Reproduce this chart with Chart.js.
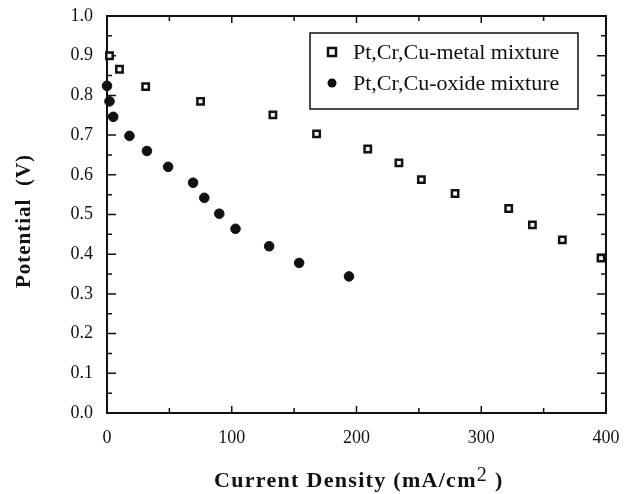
<!DOCTYPE html>
<html>
<head>
<meta charset="utf-8">
<script src="https://cdn.jsdelivr.net/npm/chart.js@4"></script>
<style>
html,body{margin:0;padding:0;background:#fff;}
#wrap{width:628px;height:494px;}
</style>
</head>
<body>
<div id="wrap"><canvas id="chart" width="628" height="494"></canvas></div>
<script>
// values
const metalX = [2, 10, 31, 75, 133, 168, 209, 234, 252, 279, 322, 341, 365, 396];
const metalY = [0.900, 0.866, 0.822, 0.785, 0.751, 0.703, 0.665, 0.630, 0.588, 0.553, 0.515, 0.474, 0.436, 0.390];
const oxideX = [0, 2, 5, 18, 32, 49, 69, 78, 90, 103, 130, 154, 194];
const oxideY = [0.824, 0.785, 0.746, 0.698, 0.660, 0.620, 0.580, 0.542, 0.502, 0.464, 0.420, 0.378, 0.344];
const seriesNames = ["Pt,Cr,Cu-metal mixture", "Pt,Cr,Cu-oxide mixture"];
const xTickValues = [0, 100, 200, 300, 400];
const yTickLabels = ["0.0","0.1","0.2","0.3","0.4","0.5","0.6","0.7","0.8","0.9","1.0"];
const xTitle = ["Current Density (mA/cm", "2", " )"];
const yTitle = "Potential  (V)";

const serif = "'Liberation Serif', 'DejaVu Serif', serif";

function pts(xs, ys) {
    return xs.map((x, k) => ({x: x, y: ys[k]}));
}

// frame + inward ticks (major and minor) on all four sides
const framePlugin = {
    id: 'frame',
    beforeDatasetsDraw(chart) {
        const {ctx, chartArea: a, scales: {x, y}} = chart;
        ctx.save();
        ctx.strokeStyle = '#111';
        ctx.lineWidth = 2;
        ctx.strokeRect(a.left, a.top, a.right - a.left, a.bottom - a.top);
        ctx.lineWidth = 1.5;
        ctx.beginPath();
        for (let v = 0; v <= 400; v += 50) {
            const px = x.getPixelForValue(v);
            const len = v % 100 === 0 ? 7 : 5;
            ctx.moveTo(px, a.bottom); ctx.lineTo(px, a.bottom - len);
            ctx.moveTo(px, a.top); ctx.lineTo(px, a.top + len);
        }
        for (let k = 0; k <= 20; k++) {
            const py = y.getPixelForValue(k * 0.05);
            const len = k % 2 === 0 ? 9 : 5;
            ctx.moveTo(a.left, py); ctx.lineTo(a.left + len, py);
            ctx.moveTo(a.right, py); ctx.lineTo(a.right - len, py);
        }
        ctx.stroke();
        ctx.restore();
    }
};

// axis titles (letter-spaced, with the superscript 2) and the boxed legend
const textPlugin = {
    id: 'texts',
    afterDraw(chart) {
        const ctx = chart.ctx;
        ctx.save();
        ctx.fillStyle = '#111';

        // x title
        ctx.font = "bold 22px " + serif;
        ctx.letterSpacing = '1.3px';
        ctx.textBaseline = 'alphabetic';
        ctx.textAlign = 'left';
        let tx = 214;
        const base = 487;
        ctx.fillText(xTitle[0], tx, base);
        tx += ctx.measureText(xTitle[0]).width;
        ctx.font = "20px " + serif;
        ctx.fillText(xTitle[1], tx, base - 6);
        tx += ctx.measureText(xTitle[1]).width;
        ctx.font = "bold 22px " + serif;
        ctx.fillText(xTitle[2], tx, base);

        // y title
        ctx.save();
        ctx.translate(25, 221);
        ctx.rotate(-Math.PI / 2);
        ctx.letterSpacing = '1px';
        ctx.font = "bold 21px " + serif;
        ctx.textAlign = 'center';
        ctx.textBaseline = 'middle';
        ctx.fillText(yTitle, 0, 0);
        ctx.restore();

        // legend
        ctx.letterSpacing = '0px';
        const bx = 310, by = 33, bw = 268, bh = 76;
        ctx.strokeStyle = '#111';
        ctx.lineWidth = 1.5;
        ctx.strokeRect(bx, by, bw, bh);
        ctx.font = "22px " + serif;
        ctx.textBaseline = 'middle';
        ctx.textAlign = 'left';
        chart.data.datasets.forEach((ds, k) => {
            const cy = by + 19 + k * 31;
            if (k === 0) {
                ctx.fillStyle = '#fff';
                ctx.lineWidth = 2.5;
                ctx.fillRect(328, cy - 4, 8, 8);
                ctx.strokeRect(328, cy - 4, 8, 8);
            } else {
                ctx.fillStyle = '#111';
                ctx.beginPath();
                ctx.arc(332, cy, 4.5, 0, Math.PI * 2);
                ctx.fill();
            }
            ctx.fillStyle = '#111';
            ctx.fillText(ds.label, 353, cy + 1);
        });
        ctx.restore();
    }
};

new Chart(document.getElementById("chart"), {
    type: "scatter",
    data: {
        datasets: [{
            label: seriesNames[0],
            data: pts(metalX, metalY),
            pointStyle: 'rect',
            pointRadius: 4.5,
            backgroundColor: '#fff',
            borderColor: '#111',
            borderWidth: 2.5,
            clip: false
        }, {
            label: seriesNames[1],
            data: pts(oxideX, oxideY),
            pointStyle: 'circle',
            pointRadius: 4.8,
            backgroundColor: '#111',
            borderColor: '#111',
            borderWidth: 1,
            clip: false
        }]
    },
    options: {
        responsive: false,
        animation: false,
        devicePixelRatio: 1,
        layout: { padding: { top: 16, right: 22, left: 0, bottom: 0 } },
        plugins: { legend: { display: false }, tooltip: { enabled: false } },
        scales: {
            x: {
                type: 'linear',
                min: 0, max: 400,
                afterFit: s => { s.height = 81; s.paddingLeft = 0; s.paddingRight = 0; },
                afterBuildTicks: s => { s.ticks = xTickValues.map(v => ({value: v})); },
                grid: { display: false, drawTicks: false },
                border: { display: false },
                ticks: {
                    color: '#111',
                    padding: 14,
                    font: { family: serif, size: 18 },
                    callback: v => String(v)
                }
            },
            y: {
                type: 'linear',
                min: 0, max: 1,
                afterFit: s => { s.width = 107; s.paddingTop = 0; s.paddingBottom = 0; },
                afterBuildTicks: s => { s.ticks = yTickLabels.map(t => ({value: parseFloat(t)})); },
                grid: { display: false, drawTicks: false },
                border: { display: false },
                ticks: {
                    color: '#111',
                    padding: 14,
                    font: { family: serif, size: 18 },
                    callback: (v, k) => yTickLabels[k]
                }
            }
        }
    },
    plugins: [framePlugin, textPlugin]
});
</script>
</body>
</html>
